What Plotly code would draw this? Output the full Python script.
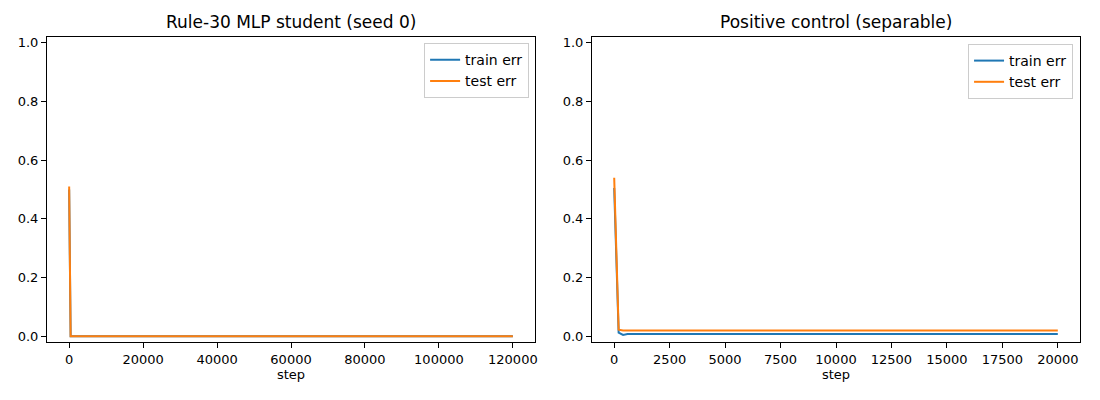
import plotly.graph_objects as go

# Rule-30 MLP student run (seed 0)
rule30_steps = [0, 200, 400, 120000]
rule30_train_err = [0.50, 0.0, 0.0, 0.0]
rule30_test_err = [0.51, 0.0, 0.0, 0.0]

# positive control run (separable task)
control_steps = [0, 200, 400, 600, 20000]
control_train_err = [0.505, 0.012, 0.004, 0.007, 0.007]
control_test_err = [0.54, 0.022, 0.019, 0.019, 0.019]

titles = ['Rule-30 MLP student (seed 0)', 'Positive control (separable)']
y_tickvals = [0.0, 0.2, 0.4, 0.6, 0.8, 1.0]
left_xticks = [0, 20000, 40000, 60000, 80000, 100000, 120000]
right_xticks = [0, 2500, 5000, 7500, 10000, 12500, 15000, 17500, 20000]

BLUE = '#1f77b4'
ORANGE = '#ff7f0e'
FONT = 'DejaVu Sans'

fig = go.Figure()

fig.add_trace(go.Scatter(x=rule30_steps, y=rule30_train_err, mode='lines', name='train err',
                         line=dict(color=BLUE, width=2), xaxis='x', yaxis='y', legend='legend'))
fig.add_trace(go.Scatter(x=rule30_steps, y=rule30_test_err, mode='lines', name='test err',
                         line=dict(color=ORANGE, width=2), xaxis='x', yaxis='y', legend='legend'))
fig.add_trace(go.Scatter(x=control_steps, y=control_train_err, mode='lines', name='train err',
                         line=dict(color=BLUE, width=2), xaxis='x2', yaxis='y2', legend='legend2'))
fig.add_trace(go.Scatter(x=control_steps, y=control_test_err, mode='lines', name='test err',
                         line=dict(color=ORANGE, width=2), xaxis='x2', yaxis='y2', legend='legend2'))


def axis_style(**kw):
    d = dict(
        showline=True, linecolor='black', linewidth=1, mirror=True,
        ticks='outside', ticklen=5, tickwidth=1, tickcolor='black',
        showgrid=False, zeroline=False, automargin=False,
        tickfont=dict(family=FONT, size=13, color='black'),
    )
    d.update(kw)
    return d


y_dom = [0.145, 0.9075]
y_range = [-0.02, 1.02]

legend_common = dict(
    xanchor='right', yanchor='top',
    bgcolor='rgba(255,255,255,0.8)', bordercolor='#cccccc', borderwidth=1,
    font=dict(family=FONT, size=14, color='black'),
    tracegroupgap=0, itemwidth=30,
)

fig.update_layout(
    width=1100, height=400,
    margin=dict(l=0, r=0, t=0, b=0),
    paper_bgcolor='white', plot_bgcolor='white',
    font=dict(family=FONT, size=13, color='black'),
    xaxis=axis_style(domain=[0.0427, 0.4864], range=[-6000, 126000], anchor='y',
                     tickvals=left_xticks, tickformat='d',
                     title=dict(text='step', font=dict(family=FONT, size=13), standoff=4)),
    yaxis=axis_style(domain=y_dom, range=y_range, anchor='x',
                     tickvals=y_tickvals, tickformat='.1f'),
    xaxis2=axis_style(domain=[0.5382, 0.9818], range=[-1000, 21000], anchor='y2',
                      tickvals=right_xticks, tickformat='d',
                      title=dict(text='step', font=dict(family=FONT, size=13), standoff=4)),
    yaxis2=axis_style(domain=y_dom, range=y_range, anchor='x2',
                      tickvals=y_tickvals, tickformat='.1f'),
    legend=dict(x=0.481, y=0.892, **legend_common),
    legend2=dict(x=0.9755, y=0.89, **legend_common),
    annotations=[
        dict(text=titles[0], x=(0.0427 + 0.4864) / 2, y=0.945, xref='paper', yref='paper',
             xanchor='center', yanchor='middle', showarrow=False,
             font=dict(family=FONT, size=17, color='black')),
        dict(text=titles[1], x=(0.5382 + 0.9818) / 2, y=0.945, xref='paper', yref='paper',
             xanchor='center', yanchor='middle', showarrow=False,
             font=dict(family=FONT, size=17, color='black')),
    ],
)

# drop the page's default body margin so the figure sits at the top-left corner
fig.write_html('out.html', config={'displayModeBar': False},
               post_script="document.body.style.margin='0';")
